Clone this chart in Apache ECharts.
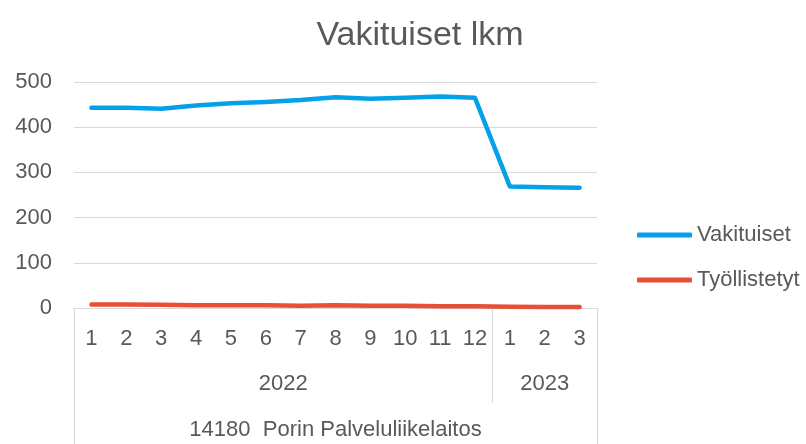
<!DOCTYPE html>
<html>
<head>
    <meta charset="utf-8">
    <title>Vakituiset lkm</title>
    <script src="https://cdn.jsdelivr.net/npm/echarts@6/dist/echarts.min.js"></script>
</head>
<body style="margin:0">
<div id="main" style="width: 806px;height:444px;"></div>
<script type="text/javascript">
  // arvot luettu kuvasta
  var years = ['2022', '2023'];
  var monthsPerYear = [12, 3];
  var unitName = '14180  Porin Palveluliikelaitos';
  var vakituiset = [443, 443, 441, 448, 453, 456, 460, 466, 463, 465, 468, 465, 269, 267, 266];
  var tyollistetyt = [8, 8, 7, 6, 6, 6, 5, 6, 5, 5, 4, 4, 3, 2, 2];
  var yTicks = [0, 100, 200, 300, 400, 500];

  var font = '"Liberation Sans", Arial, sans-serif';
  var textColor = '#595959';
  var lineColor = '#d9d9d9';

  // kuukausiluokat, esim. "2022-1"
  var categories = [];
  years.forEach(function (y, i) {
    for (var m = 1; m <= monthsPerYear[i]; m++) categories.push(y + '-' + m);
  });
  var n = categories.length;

  // puolen askeleen pisteet ryhmätasoja varten (0 .. n)
  var halfYear = [], halfUnit = [];
  var yearCenter = {}, yearEdge = {0: true};
  var start = 0;
  years.forEach(function (y, i) {
    yearCenter[(start * 2 + monthsPerYear[i])] = y;
    start += monthsPerYear[i];
    yearEdge[start * 2] = true;
  });
  for (var k = 0; k <= n * 2; k++) {
    halfYear.push(yearCenter[k] || '');
    halfUnit.push(k === n ? unitName : '');
  }

  var myChart = echarts.init(document.getElementById('main'));

  var option = {
    backgroundColor: '#fff',
    animation: false,
    title: {
      text: 'Vakituiset lkm',
      left: 415,
      top: 14,
      textAlign: 'center',
      textStyle: {fontFamily: font, fontSize: 34, fontWeight: 'normal', color: textColor}
    },
    legend: {
      orient: 'vertical',
      left: 637,
      top: 224,
      padding: 0,
      icon: 'roundRect',
      itemWidth: 55,
      itemHeight: 5,
      itemGap: 23,
      textStyle: {fontFamily: font, fontSize: 22, lineHeight: 22, color: textColor},
      data: ['Vakituiset', 'Työllistetyt']
    },
    grid: {left: 74, right: 209, top: 82, bottom: 136},
    xAxis: [{
      type: 'category',
      data: categories,
      boundaryGap: true,
      axisLine: {lineStyle: {color: lineColor, width: 1}},
      axisTick: {show: false},
      axisLabel: {
        interval: 0, margin: 20, fontFamily: font, fontSize: 22, color: textColor,
        formatter: function (v) { return v.split('-')[1]; }
      }
    }, {
      type: 'category',
      position: 'bottom',
      data: halfYear,
      boundaryGap: false,
      axisLine: {show: false},
      axisTick: {
        show: true, length: 95, lineStyle: {color: lineColor},
        interval: function (i) { return i > 0 && yearEdge[i] === true; }
      },
      axisLabel: {
        interval: function (i, v) { return v !== ''; },
        margin: 65, fontFamily: font, fontSize: 22, color: textColor
      }
    }, {
      type: 'category',
      position: 'bottom',
      data: halfUnit,
      boundaryGap: false,
      axisLine: {show: false},
      axisTick: {
        show: true, length: 140, lineStyle: {color: lineColor},
        interval: function (i) { return i === 0 || i === n * 2; }
      },
      axisLabel: {
        interval: function (i, v) { return v !== ''; },
        margin: 111, fontFamily: font, fontSize: 22, color: textColor
      }
    }],
    yAxis: {
      type: 'value',
      min: yTicks[0],
      max: yTicks[yTicks.length - 1],
      interval: yTicks[1] - yTicks[0],
      axisLine: {show: false},
      axisTick: {show: false},
      splitLine: {lineStyle: {color: lineColor, width: 1}},
      axisLabel: {margin: 22, fontFamily: font, fontSize: 22, color: textColor}
    },
    series: [{
      name: 'Vakituiset',
      type: 'line',
      data: vakituiset,
      symbol: 'none',
      color: '#04A0E8',
      lineStyle: {width: 4.5, cap: 'round', join: 'round'}
    }, {
      name: 'Työllistetyt',
      type: 'line',
      data: tyollistetyt,
      symbol: 'none',
      color: '#E64F38',
      lineStyle: {width: 4.5, cap: 'round', join: 'round'}
    }]
  };
  myChart.setOption(option);
</script>
</body>
</html>
